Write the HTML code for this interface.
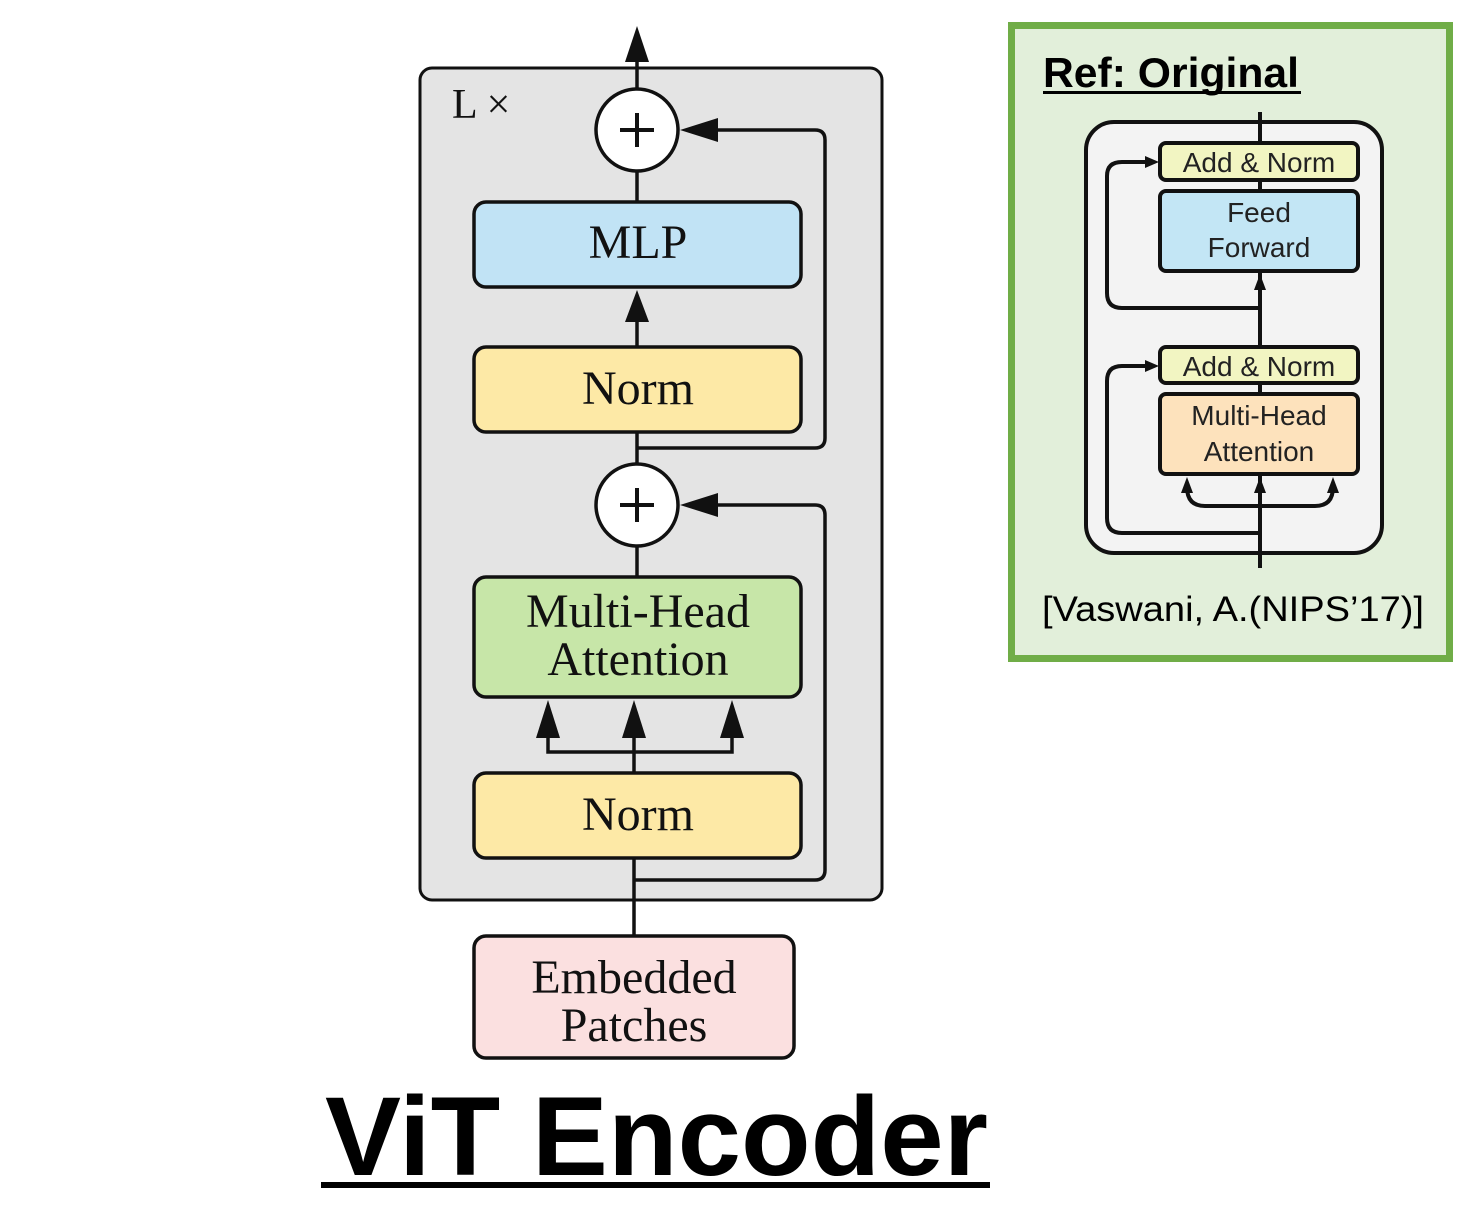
<!DOCTYPE html>
<html><head><meta charset="utf-8"><style>html,body{margin:0;padding:0;background:#fff}svg{display:block}</style></head><body>
<svg width="1470" height="1218" viewBox="0 0 1470 1218" xmlns="http://www.w3.org/2000/svg">
<!-- main -->
<rect x="420" y="68" width="462" height="832" rx="12" fill="#e4e4e4" stroke="#111" stroke-width="3"/>
<text x="452" y="118" font-family="Liberation Serif, serif" font-size="42" fill="#111">L ×</text>
<g stroke="#111" stroke-width="3.5" fill="none">
<line x1="637" y1="60" x2="637" y2="90"/>
<line x1="637" y1="171" x2="637" y2="202"/>
<line x1="637" y1="318" x2="637" y2="347"/>
<line x1="637" y1="432" x2="637" y2="464"/>
<line x1="637" y1="546" x2="637" y2="577"/>
<line x1="634" y1="736" x2="634" y2="773"/>
<polyline points="548,736 548,752 732,752 732,736"/>
<line x1="634" y1="858" x2="634" y2="936"/>
<path d="M637 448 H815 Q825 448 825 438 V140 Q825 130 815 130 H715"/>
<path d="M634 880 H815 Q825 880 825 870 V515 Q825 505 815 505 H715"/>
</g>
<g fill="#111">
<polygon points="637,26 625,62 649,62"/>
<polygon points="637,290 625,322 649,322"/>
<polygon points="680,130 718,118 718,142"/>
<polygon points="680,505 718,493 718,517"/>
<polygon points="548,700 536,738 560,738"/>
<polygon points="634,700 622,738 646,738"/>
<polygon points="732,700 720,738 744,738"/>
</g>
<circle cx="637" cy="130" r="41" fill="#fff" stroke="#111" stroke-width="3.5"/>
<circle cx="637" cy="505" r="41" fill="#fff" stroke="#111" stroke-width="3.5"/>
<g stroke="#111" stroke-width="4"><line x1="637" y1="113" x2="637" y2="147"/><line x1="620" y1="130" x2="654" y2="130"/><line x1="637" y1="488" x2="637" y2="522"/><line x1="620" y1="505" x2="654" y2="505"/></g>
<g stroke="#111" stroke-width="3.5">
<rect x="474" y="202" width="327" height="85" rx="12" fill="#c1e3f5"/>
<rect x="474" y="347" width="327" height="85" rx="12" fill="#fde9a6"/>
<rect x="474" y="577" width="327" height="120" rx="12" fill="#c7e6a8"/>
<rect x="474" y="773" width="327" height="85" rx="12" fill="#fde9a6"/>
<rect x="474" y="936" width="320" height="122" rx="12" fill="#fbe0e0"/>
</g>
<g font-family="Liberation Serif, serif" font-size="48" fill="#111" text-anchor="middle">
<text x="638" y="258">MLP</text>
<text x="638" y="404">Norm</text>
<text x="638" y="627">Multi-Head</text>
<text x="638" y="675">Attention</text>
<text x="638" y="830">Norm</text>
<text x="634" y="993">Embedded</text>
<text x="634" y="1041">Patches</text>
</g>
<text x="325" y="1175" textLength="663" lengthAdjust="spacingAndGlyphs" font-family="Liberation Sans, sans-serif" font-weight="bold" font-size="112" fill="#000">ViT Encoder</text>
<rect x="321" y="1182" width="669" height="6" fill="#000"/>
<!-- right panel -->
<rect x="1011.5" y="25.5" width="438" height="633" fill="#e2efda" stroke="#70ad47" stroke-width="7"/>
<text x="1043" y="87" textLength="256" lengthAdjust="spacingAndGlyphs" font-family="Liberation Sans, sans-serif" font-weight="bold" font-size="42" fill="#000">Ref: Original</text>
<rect x="1043" y="91" width="258" height="3" fill="#000"/>
<rect x="1086" y="122" width="296" height="431" rx="28" fill="#f3f3f3" stroke="#111" stroke-width="4"/>
<g stroke="#111" stroke-width="4" fill="none">
<line x1="1260" y1="112" x2="1260" y2="568"/>
<path d="M1260 308 H1122 Q1107 308 1107 293 V176 Q1107 162 1122 162 H1152"/>
<path d="M1260 533 H1122 Q1107 533 1107 518 V381 Q1107 366 1122 366 H1152"/>
<path d="M1187 487 Q1187 506 1205 506 H1315 Q1333 506 1333 487"/>
</g>
<g fill="#111">
<polygon points="1159,162 1145,156 1145,168"/>
<polygon points="1159,366 1145,360 1145,372"/>
<polygon points="1260,274 1254,290 1266,290"/>
<polygon points="1260,477 1254,493 1266,493"/>
<polygon points="1187,477 1181,493 1193,493"/>
<polygon points="1333,477 1327,493 1339,493"/>
</g>
<g stroke="#111" stroke-width="4">
<rect x="1160" y="143" width="198" height="37" rx="6" fill="#f2f5c2"/>
<rect x="1160" y="191" width="198" height="80" rx="6" fill="#c3e6f5"/>
<rect x="1160" y="347" width="198" height="36" rx="6" fill="#f2f5c2"/>
<rect x="1160" y="394" width="198" height="80" rx="6" fill="#fde2bc"/>
</g>
<g font-family="Liberation Sans, sans-serif" font-size="28" fill="#222" text-anchor="middle">
<text x="1259" y="172">Add &amp; Norm</text>
<text x="1259" y="222">Feed</text>
<text x="1259" y="257">Forward</text>
<text x="1259" y="376">Add &amp; Norm</text>
<text x="1259" y="425">Multi-Head</text>
<text x="1259" y="461">Attention</text>
</g>
<text x="1042" y="621" textLength="382" lengthAdjust="spacingAndGlyphs" font-family="Liberation Sans, sans-serif" font-size="35" fill="#000">[Vaswani, A.(NIPS’17)]</text>
</svg>
</body></html>
